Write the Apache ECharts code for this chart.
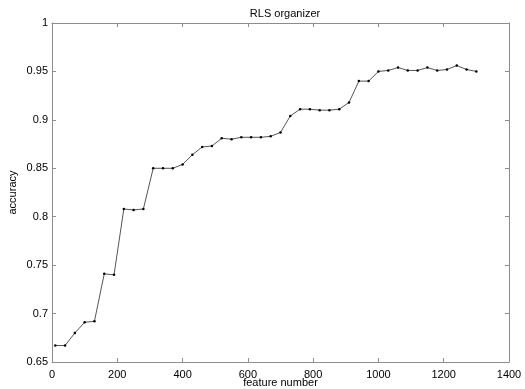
<!DOCTYPE html>
<html>
<head>
<meta charset="utf-8">
<script src="https://cdn.jsdelivr.net/npm/echarts@6/dist/echarts.min.js"></script>
<style>
  html, body { margin: 0; padding: 0; background: #fff; }
  #chart { width: 525px; height: 389px; }
</style>
</head>
<body>
<div id="chart"></div>
<script>
// feature counts (x) and accuracy (y)
const featureNumber = [
  10, 40, 70, 100, 130, 160, 190, 220, 250, 280,
  310, 340, 370, 400, 430, 460, 490, 520, 550, 580,
  610, 640, 670, 700, 730, 760, 790, 820, 850, 880,
  910, 940, 970, 1000, 1030, 1060, 1090, 1120, 1150, 1180,
  1210, 1240, 1270, 1300
];
const accuracy = [
  0.667, 0.667, 0.680, 0.691, 0.692, 0.741, 0.740, 0.808, 0.807, 0.808,
  0.850, 0.850, 0.850, 0.854, 0.864, 0.872, 0.873, 0.881, 0.880, 0.882,
  0.882, 0.882, 0.883, 0.887, 0.904, 0.911, 0.911, 0.910, 0.910, 0.911,
  0.918, 0.940, 0.940, 0.950, 0.951, 0.954, 0.951, 0.951, 0.954, 0.951,
  0.952, 0.956, 0.952, 0.950
];

const axisGray = '#8c8c8c';
const font = 'Liberation Sans, Arial, sans-serif';

const chart = echarts.init(document.getElementById('chart'));

// MATLAB-like box: bottom/left axes with labels, top/right only ticks
const boxAxis = (pos, min, max, interval, labels, margin) => ({
  type: 'value',
  position: pos,
  min, max, interval,
  axisLine: { show: true, onZero: false, lineStyle: { color: axisGray, width: 1 } },
  axisTick: { show: true, inside: true, length: 4, lineStyle: { color: axisGray } },
  axisLabel: {
    show: labels,
    color: '#000',
    fontSize: 11,
    fontFamily: font,
    margin: margin || 4,
    formatter: (v) => String(+v.toFixed(2)),
  },
  splitLine: { show: false },
});

chart.setOption({
  animation: false,
  title: {
    text: 'RLS organizer',
    left: 280,
    top: 3,
    textAlign: 'center',
    textStyle: { fontSize: 11, fontWeight: 'normal', color: '#000', fontFamily: font },
  },
  grid: { left: 52, right: 16, top: 23, bottom: 27, outerBoundsMode: 'none' },
  xAxis: [
    Object.assign(boxAxis('bottom', 0, 1400, 200, true, 7), {
      name: 'feature number',
      nameLocation: 'middle',
      nameGap: 15,
      nameMoveOverlap: false,
      nameTextStyle: { fontSize: 11, color: '#000', fontFamily: font },
    }),
    boxAxis('top', 0, 1400, 200, false),
  ],
  yAxis: [
    Object.assign(boxAxis('left', 0.65, 1, 0.05, true), {
      name: 'accuracy',
      nameLocation: 'middle',
      nameGap: 34,
      nameMoveOverlap: false,
      nameTextStyle: { fontSize: 11, color: '#000', fontFamily: font },
    }),
    boxAxis('right', 0.65, 1, 0.05, false),
  ],
  series: [{
    type: 'line',
    xAxisIndex: 0,
    yAxisIndex: 0,
    data: featureNumber.map((x, i) => [x, accuracy[i]]),
    symbol: 'circle',
    symbolSize: 2.5,
    itemStyle: { color: '#000' },
    lineStyle: { color: '#555', width: 1 },
  }],
});
</script>
</body>
</html>
